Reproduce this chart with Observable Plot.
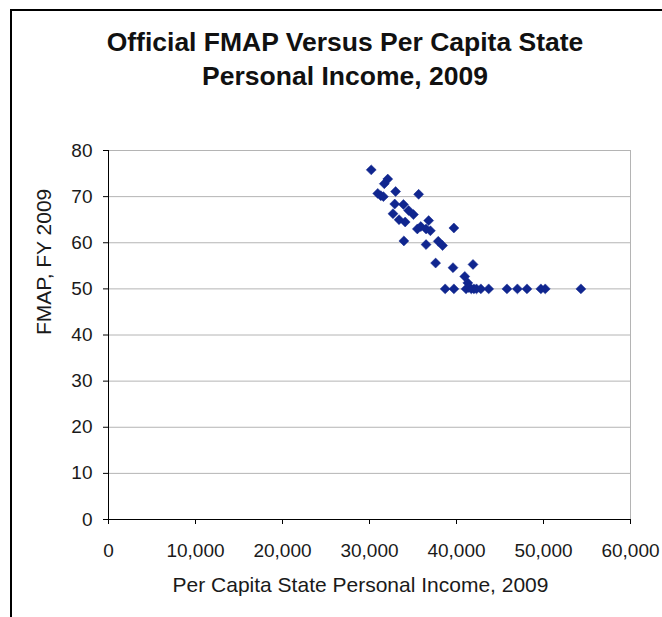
<!DOCTYPE html>
<html><head><meta charset="utf-8">
<script src="https://cdn.jsdelivr.net/npm/d3@7"></script>
<script src="https://cdn.jsdelivr.net/npm/@observablehq/plot@0.6"></script>
<style>
html,body{margin:0;padding:0;background:#fff;}
body{width:662px;height:617px;overflow:hidden;position:relative;font-family:"Liberation Sans",Arial,sans-serif;}
#border{position:absolute;left:10px;top:9px;width:800px;height:800px;border-left:2.5px solid #000;border-top:2.5px solid #000;pointer-events:none;z-index:2;}
#title{position:absolute;left:0;top:0;width:690px;height:110px;text-align:center;font-weight:bold;font-size:26.5px;line-height:34px;color:#111;padding-top:25px;box-sizing:border-box;}
#chart{position:absolute;left:0;top:110px;}
</style></head>
<body>
<div id="border"></div>
<div id="title">Official FMAP Versus Per Capita State<br>Personal Income, 2009</div>
<div id="chart"></div>
<script>
// Per capita state personal income (x) and official FMAP FY 2009 (y)
const income = [30200, 32100, 31700, 30950, 31300, 31600, 33000, 35650, 32900, 33900,
                32700, 33400, 34100, 35050, 34500, 35500, 35900, 36800, 36500, 37000,
                39700, 33950, 36500, 37900, 38400, 37600, 39600, 41900, 40950, 41300,
                38700, 39700, 41100, 41400, 41700, 42000, 42300, 42800, 43700, 45800,
                47000, 48100, 49700, 50200, 54300];
const fmap   = [75.8, 73.8, 72.8, 70.7, 70.2, 70.0, 71.1, 70.5, 68.4, 68.3,
                66.3, 65.0, 64.5, 66.1, 67.0, 63.0, 63.5, 64.8, 63.0, 62.6,
                63.2, 60.4, 59.6, 60.3, 59.4, 55.6, 54.6, 55.3, 52.7, 51.3,
                50.0, 50.0, 50.0, 50.3, 50.0, 50.0, 50.0, 50.0, 50.0, 50.0,
                50.0, 50.0, 50.0, 50.0, 50.0];
const xTicks = [0, 10000, 20000, 30000, 40000, 50000, 60000];
const yTicks = [0, 10, 20, 30, 40, 50, 60, 70, 80];
const xLabel = "Per Capita State Personal Income, 2009";
const yLabel = "FMAP, FY 2009";

const data = income.map((x, i) => ({income: x, fmap: fmap[i]}));
const navy = "#10268f";

const chart = Plot.plot({
  width: 662, height: 507,
  marginTop: 40, marginBottom: 98, marginLeft: 108, marginRight: 32,
  style: {fontFamily: "'Liberation Sans', Arial, sans-serif", background: "transparent", color: "#000"},
  x: {domain: [0, 60000]},
  y: {domain: [0, 80]},
  marks: [
    Plot.gridY(yTicks, {stroke: "#b4b4b4", strokeOpacity: 1}),
    Plot.ruleX([60000], {stroke: "#b4b4b4"}),
    Plot.axisY(yTicks, {tickSize: 5, tickPadding: 11, fontSize: 19, label: null, fill: "#1a1a1a", stroke: "#000"}),
    Plot.axisX(xTicks, {tickSize: 5, tickPadding: 19, fontSize: 19, label: null, tickFormat: d3.format(","), fill: "#1a1a1a", stroke: "#000"}),
    Plot.ruleY([0], {stroke: "#000"}),
    Plot.ruleX([0], {stroke: "#000"}),
    Plot.text([xLabel], {frameAnchor: "bottom", dy: 72, dx: -9, lineAnchor: "bottom", fontSize: 21, fill: "#1a1a1a"}),
    Plot.text([yLabel], {frameAnchor: "left", rotate: -90, dx: -64, fontSize: 21, fill: "#1a1a1a"}),
    Plot.dot(data, {x: "income", y: "fmap", symbol: "diamond2", r: 4.5, fill: navy, stroke: navy, strokeWidth: 0.5})
  ]
});
document.getElementById("chart").appendChild(chart);
</script>
</body></html>
